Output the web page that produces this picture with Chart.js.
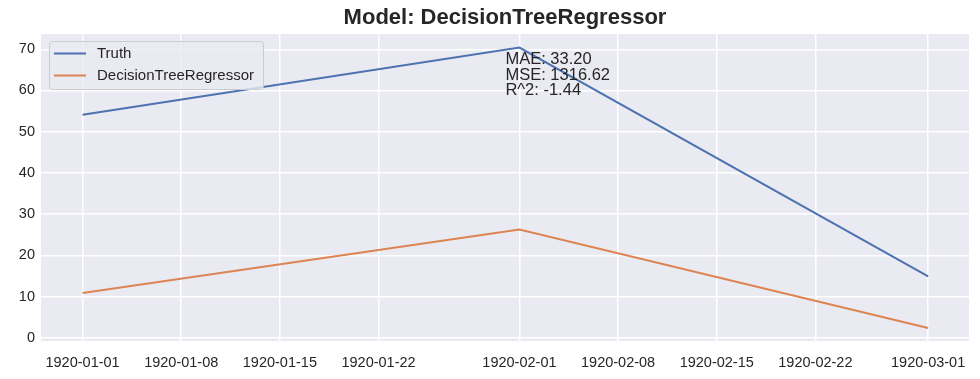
<!DOCTYPE html>
<html>
<head>
<meta charset="utf-8">
<script src="https://cdn.jsdelivr.net/npm/chart.js@4"></script>
<style>
html,body{margin:0;padding:0;background:#fff;}
#wrap{width:980px;height:379px;}
</style>
</head>
<body>
<div id="wrap"><canvas id="c" width="980" height="379"></canvas></div>
<script>
// ---- data ----
const dates = ['1920-01-01', '1920-02-01', '1920-03-01'];
const truthValues = [54.1, 70.4, 14.9];
const dtrValues = [10.9, 26.3, 2.4];
const xTickLabels = ['1920-01-01','1920-01-08','1920-01-15','1920-01-22','1920-02-01','1920-02-08','1920-02-15','1920-02-22','1920-03-01'];
const yTickValues = [0, 10, 20, 30, 40, 50, 60, 70];
const seriesNames = ['Truth', 'DecisionTreeRegressor'];
const annotationLines = ['MAE: 33.20', 'MSE: 1316.62', 'R^2: -1.44'];
const titleText = 'Model: DecisionTreeRegressor';

const DAY = 86400000;
const base = Date.UTC(1920, 0, 1);
function dayOf(s){ const p = s.split('-').map(Number); return (Date.UTC(p[0], p[1]-1, p[2]) - base) / DAY; }
const xDays = dates.map(dayOf);
const xTickDays = xTickLabels.map(dayOf);

const colors = ['#4C72B0', '#DD8452'];
const FONT = '"Liberation Sans", Arial, sans-serif';

const bgPlugin = {
  id: 'bg',
  beforeDraw(chart){
    const {ctx, chartArea:a} = chart;
    ctx.save();
    ctx.fillStyle = '#EAEAF2';
    ctx.fillRect(a.left, a.top, a.right - a.left, a.bottom - a.top);
    ctx.restore();
  }
};

const overlayPlugin = {
  id: 'overlay',
  afterDraw(chart){
    const {ctx, chartArea:a, scales} = chart;
    ctx.save();
    // title
    ctx.fillStyle = '#262626';
    ctx.font = 'bold 22px ' + FONT;
    ctx.textAlign = 'center';
    ctx.textBaseline = 'middle';
    ctx.fillText(titleText, (a.left + a.right) / 2, 18);

    // annotation
    ctx.font = '16.5px ' + FONT;
    ctx.textAlign = 'left';
    ctx.textBaseline = 'middle';
    const ax = scales.x.getPixelForValue(xDays[1]) - 14;
    let ay = 59.5;
    annotationLines.forEach((t, i) => ctx.fillText(t, ax, ay + i * 15.5));

    // legend
    const lx = 49, ly = 41, lw = 214, lh = 48;
    ctx.fillStyle = 'rgba(234,234,242,0.8)';
    ctx.strokeStyle = '#cccccc';
    ctx.lineWidth = 1;
    ctx.beginPath();
    if (ctx.roundRect) ctx.roundRect(lx + 0.5, ly + 0.5, lw, lh, 3); else ctx.rect(lx + 0.5, ly + 0.5, lw, lh);
    ctx.fill();
    ctx.stroke();
    ctx.font = '15px ' + FONT;
    ctx.textBaseline = 'middle';
    seriesNames.forEach((n, i) => {
      const y = 53.5 + i * 22;
      ctx.strokeStyle = colors[i];
      ctx.lineWidth = 2;
      ctx.beginPath();
      ctx.moveTo(54, y);
      ctx.lineTo(86, y);
      ctx.stroke();
      ctx.fillStyle = '#262626';
      ctx.fillText(n, 97, y);
    });
    ctx.restore();
  }
};

new Chart(document.getElementById('c'), {
  type: 'line',
  data: {
    datasets: [
      { label: seriesNames[0], data: xDays.map((x, i) => ({x, y: truthValues[i]})), borderColor: colors[0], borderWidth: 2, pointRadius: 0, tension: 0, fill: false },
      { label: seriesNames[1], data: xDays.map((x, i) => ({x, y: dtrValues[i]})), borderColor: colors[1], borderWidth: 2, pointRadius: 0, tension: 0, fill: false }
    ]
  },
  options: {
    responsive: false,
    animation: false,
    events: [],
    layout: { padding: { top: 34, right: 11, left: 0, bottom: 0 } },
    plugins: { legend: { display: false }, title: { display: false }, tooltip: { enabled: false } },
    scales: {
      x: {
        type: 'linear',
        min: -2.95, max: 62.9,
        afterBuildTicks(s){ s.ticks = xTickDays.map(v => ({value: v})); },
        afterFit(s){ s.height = 38; },
        ticks: {
          autoSkip: false, maxRotation: 0, minRotation: 0, padding: 13,
          color: '#262626', font: { family: FONT, size: 14.5 },
          callback(v){ const i = xTickDays.indexOf(v); return i >= 0 ? xTickLabels[i] : ''; }
        },
        grid: { color: '#ffffff', lineWidth: 1.5, drawTicks: false },
        border: { display: false }
      },
      y: {
        type: 'linear',
        min: -0.75, max: 73.7,
        afterBuildTicks(s){ s.ticks = yTickValues.map(v => ({value: v})); },
        afterFit(s){ s.width = 41; },
        ticks: { padding: 6, color: '#262626', font: { family: FONT, size: 14.5 } },
        grid: { color: '#ffffff', lineWidth: 1.5, drawTicks: false },
        border: { display: false }
      }
    }
  },
  plugins: [bgPlugin, overlayPlugin]
});
</script>
</body>
</html>
